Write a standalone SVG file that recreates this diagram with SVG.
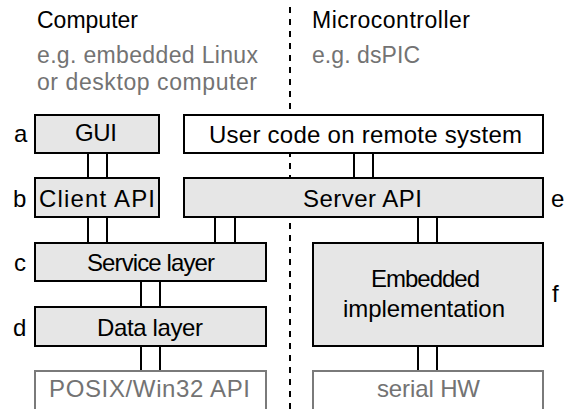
<svg xmlns="http://www.w3.org/2000/svg" width="565" height="409" viewBox="0 0 565 409">
<style>
text{font-family:"Liberation Sans",Arial,sans-serif;font-size:24px;fill:#000}
.h{font-size:23px}
.g{fill:#737373}
.box{fill:#e6e6e6;stroke:#000;stroke-width:2}
.wbox{fill:#fff;stroke:#000;stroke-width:2}
.hw{fill:#fff;stroke:#7a7a7a;stroke-width:2}
.c line{stroke:#000;stroke-width:2}
.sep{stroke:#000;stroke-width:2;stroke-dasharray:6 6}
</style>
<rect width="565" height="409" fill="#fff"/>
<line class="sep" x1="290" y1="7" x2="290" y2="409"/>
<g id="headers">
<text class="h" x="37" y="28" textLength="101">Computer</text>
<text class="h g" x="37" y="63" textLength="221">e.g. embedded Linux</text>
<text class="h g" x="37" y="90" textLength="220">or desktop computer</text>
<text class="h" x="312" y="28" textLength="158">Microcontroller</text>
<text class="h g" x="312" y="63" textLength="108">e.g. dsPIC</text>
</g>
<g class="c" id="connectors">
<line x1="88" y1="153" x2="88" y2="177"/><line x1="107" y1="153" x2="107" y2="177"/>
<line x1="88" y1="218" x2="88" y2="242"/><line x1="107" y1="218" x2="107" y2="242"/>
<line x1="215" y1="218" x2="215" y2="242"/><line x1="235" y1="218" x2="235" y2="242"/>
<line x1="354" y1="153" x2="354" y2="177"/><line x1="373" y1="153" x2="373" y2="177"/>
<line x1="418" y1="218" x2="418" y2="242"/><line x1="437" y1="218" x2="437" y2="242"/>
<line x1="141" y1="282" x2="141" y2="306"/><line x1="160" y1="282" x2="160" y2="306"/>
<line x1="141" y1="347" x2="141" y2="370"/><line x1="160" y1="347" x2="160" y2="370"/>
<line x1="418" y1="347" x2="418" y2="370"/><line x1="437" y1="347" x2="437" y2="370"/>
</g>
<g id="gui">
<rect class="box" x="35" y="115" width="124" height="38"/>
<text x="75" y="141" textLength="42">GUI</text>
<text x="14" y="142">a</text>
</g>
<g id="client-api">
<rect class="box" x="35" y="178" width="124" height="39"/>
<text x="39" y="207" textLength="116">Client API</text>
<text x="13" y="207">b</text>
</g>
<g id="user-code">
<rect class="wbox" x="184" y="115" width="359" height="38"/>
<text x="209" y="143" textLength="313">User code on remote system</text>
</g>
<g id="server-api">
<rect class="box" x="184" y="178" width="359" height="39"/>
<text x="303" y="207" textLength="119">Server API</text>
<text x="551" y="207">e</text>
</g>
<g id="service-layer">
<rect class="box" x="35" y="243" width="231" height="38"/>
<text x="87" y="271" textLength="128">Service layer</text>
<text x="14" y="271">c</text>
</g>
<g id="data-layer">
<rect class="box" x="35" y="307" width="231" height="39"/>
<text x="97" y="336" textLength="106">Data layer</text>
<text x="13" y="336">d</text>
</g>
<g id="posix">
<rect class="hw" x="35" y="371" width="231" height="50"/>
<text class="g" x="49" y="397" textLength="201">POSIX/Win32 API</text>
</g>
<g id="embedded">
<rect class="box" x="313" y="243" width="230" height="103"/>
<text x="371" y="287" textLength="109">Embedded</text>
<text x="343" y="317" textLength="162">implementation</text>
<text x="552" y="302">f</text>
</g>
<g id="serial-hw">
<rect class="hw" x="313" y="371" width="230" height="50"/>
<text class="g" x="377" y="397" textLength="103">serial HW</text>
</g>
</svg>
